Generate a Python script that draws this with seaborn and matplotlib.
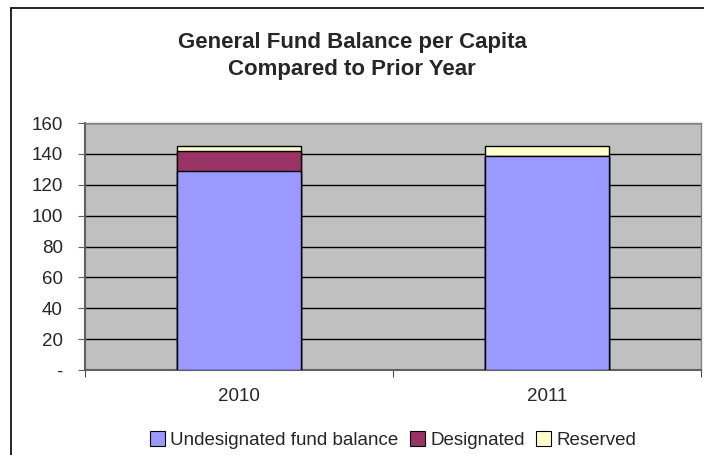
import matplotlib
matplotlib.use('Agg')
import matplotlib.pyplot as plt
from matplotlib.patches import Patch
from matplotlib.lines import Line2D
import numpy as np
import pandas as pd
import seaborn as sns

# Data
years = ['2010', '2011']
undesignated = [129.2, 138.7]
designated = [12.5, 0.0]
reserved = [3.5, 6.3]

series_names = ['Undesignated fund balance', 'Designated', 'Reserved']
series_colors = ['#9999FF', '#993366', '#FFFFCC']

sns.set_style('white')
plt.rcParams['font.family'] = ['Liberation Sans', 'DejaVu Sans']

# cumulative totals for stacking
level1 = np.array(undesignated)
level2 = level1 + np.array(designated)
level3 = level2 + np.array(reserved)

df = pd.DataFrame({'year': years, 'u': level1, 'd': level2, 'r': level3})

fig = plt.figure(figsize=(7.04, 4.55), dpi=100)
ax = fig.add_axes([85 / 704, 1 - 370 / 455, (701 - 85) / 704, (370 - 123) / 455])
ax.set_facecolor('#C0C0C0')

# grid lines behind bars
for yv in range(20, 161, 20):
    ax.axhline(yv, color='black', lw=1, zorder=1)

# draw tallest first, so each layer covers the part below
for col, color in zip(['r', 'd', 'u'], series_colors[::-1]):
    sns.barplot(data=df, x='year', y=col, color=color, width=0.4, saturation=1,
                edgecolor='black', linewidth=1, ax=ax, zorder=3)

ax.set_xlim(-0.5, 1.5)
ax.set_ylim(0, 160)
ax.set_xlabel('')
ax.set_ylabel('')

ax.set_yticks(range(0, 161, 20))
ax.set_yticklabels(['-'] + [str(v) for v in range(20, 161, 20)], fontsize=13.5)
ax.tick_params(axis='y', direction='out', length=5, color='#606060', pad=11, left=True)

ax.set_xticks([0, 1])
ax.set_xticklabels(years, fontsize=13.5)
ax.set_xticks([-0.5, 0.5, 1.5], minor=True)
ax.tick_params(axis='x', which='major', length=0, pad=13)
ax.tick_params(axis='x', which='minor', direction='out', length=5, color='#202020', bottom=True)

for side in ['left', 'bottom']:
    ax.spines[side].set_color('#606060')
    ax.spines[side].set_linewidth(1.5)
for side in ['top', 'right']:
    ax.spines[side].set_visible(True)
    ax.spines[side].set_color('#808080')
    ax.spines[side].set_linewidth(1)

fig.text(0.5, 1 - 56 / 455, 'General Fund Balance per Capita\nCompared to Prior Year',
         ha='center', va='center', fontsize=16, fontweight='bold', linespacing=1.4)

handles = [Patch(facecolor=c, edgecolor='black', linewidth=0.8) for c in series_colors]
fig.legend(handles, series_names, loc='center', bbox_to_anchor=(393 / 704, 1 - 440 / 455),
           ncol=3, frameon=False, fontsize=13.5, handlelength=0.8, handleheight=0.8,
           handletextpad=0.3, columnspacing=0.6, borderaxespad=0)

# outer chart frame (left and top edges visible)
fig.add_artist(Line2D([11 / 704, 11 / 704], [0, 1 - 8 / 455], transform=fig.transFigure,
                      color='black', lw=1.2))
fig.add_artist(Line2D([11 / 704, 1], [1 - 8 / 455, 1 - 8 / 455], transform=fig.transFigure,
                      color='black', lw=1.2))

fig.savefig('out.png', dpi=100)
